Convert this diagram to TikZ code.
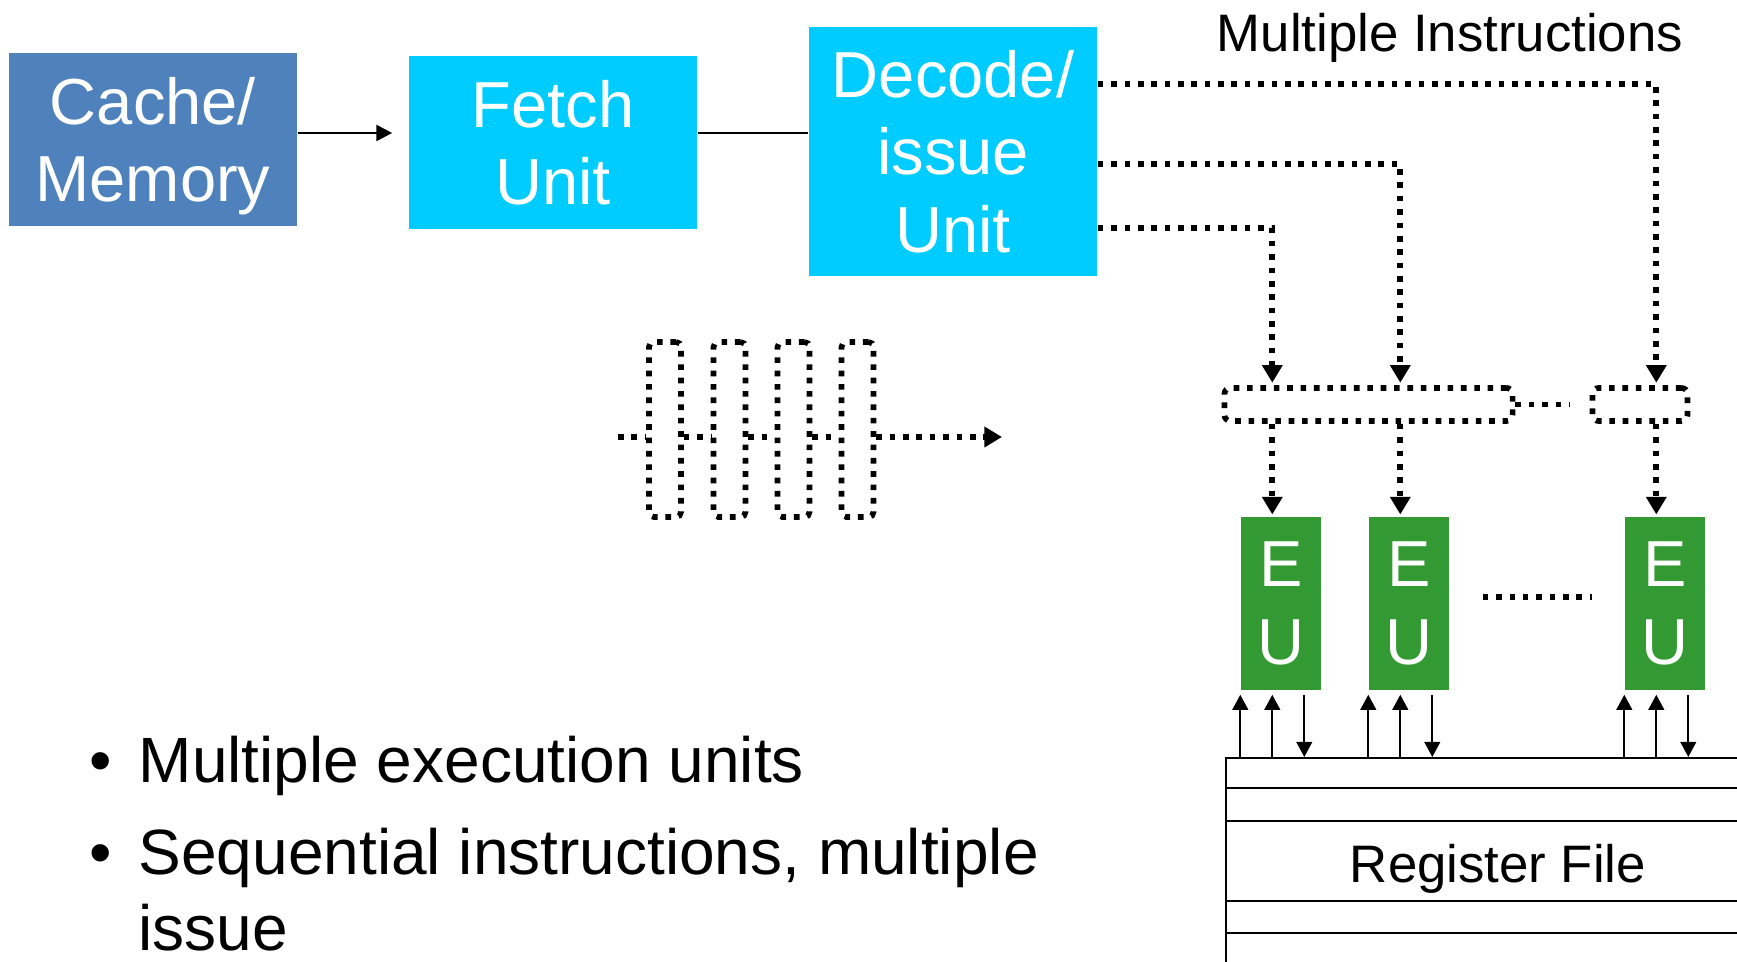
\documentclass[tikz,border=0pt]{standalone}
\usepackage{fontspec}
\setmainfont{Liberation Sans}
\usetikzlibrary{calc,arrows.meta,positioning}

\definecolor{membg}{RGB}{79,129,189}
\definecolor{unitbg}{RGB}{0,204,255}
\definecolor{eubg}{RGB}{51,153,51}

\tikzset{
	unitbox/.style={inner sep=0pt, align=center, text=white, font=\fontsize{18.5}{22}\selectfont},
	eubox/.style={unitbox, fill=eubg, minimum width=0.8cm, minimum height=1.73cm},
	smalltext/.style={inner sep=0pt, font=\fontsize{15}{18}\selectfont},
	bullettext/.style={inner sep=0pt, font=\fontsize{18.2}{22}\selectfont},
	dots/.style={line width=1.6pt, dash pattern=on 1.6pt off 2.2pt},
	dotarrow/.style={dots, -{Triangle[width=5.6pt,length=5pt]}},
	pulse/.style={draw, dots, rounded corners=0.05cm, minimum width=0.32cm, minimum height=1.75cm, inner sep=0pt},
	issuebar/.style={draw, dots, rounded corners=0.06cm, minimum height=0.33cm, inner sep=0pt},
	fetcharrow/.style={line width=0.75pt, -{Triangle[width=4.5pt,length=4.5pt]}},
	regarrow/.style={line width=0.5pt, -{Triangle[width=4.5pt,length=4.3pt]}}
}

\begin{document}
\begin{tikzpicture}[x=0.01cm, y=-0.01cm]
	%%%%% START %%%%%
	\useasboundingbox (0,0) rectangle (1737,962);
	
	\node[unitbox, fill=membg, text depth=0pt, minimum width=2.88cm, minimum height=1.73cm] (cache) at (153, 139.5) {Cache/\\Memory};
	\node[unitbox, fill=unitbg, minimum width=2.88cm, minimum height=1.73cm] (fetch) at (553, 142.5) {Fetch\\Unit};
	\node[unitbox, fill=unitbg, minimum width=2.88cm, minimum height=2.49cm] (decode) at (953, 151.5) {Decode/\\issue\\Unit};
	
	\coordinate (bus) at (0, 133);
	\draw[fetcharrow, shorten >=0.16cm] (cache.east |- bus) -- (fetch.west |- bus);
	\draw[line width=0.5pt] (fetch.east |- bus) -- (decode.west |- bus);
	
	\node[smalltext, anchor=base] (multi) at (1450, 52) {Multiple Instructions};
	
	% issue bars
	\node[issuebar, minimum width=2.88cm] (bara) at (1368.5, 404.5) {};
	\node[issuebar, minimum width=0.95cm] (barb) at (1640, 404.5) {};
	\draw[dots, shorten >=0.2cm] (bara.east) -- (barb.west);
	
	% execution units
	\foreach \n/\x in {eua/1281, eub/1409, euc/1665} {
		\node[eubox] (\n) at (\x, 603.5) {E\\U};
		\coordinate (\n-c) at ($(\n.south west)+(32,0)$);
		\coordinate (\n-r) at ($(\n.south west)+(64,0)$);
	}
	\draw[dots, shorten <=0.33cm, shorten >=0.32cm] ($(eub.east)+(0,-6.5)$) -- ($(euc.west)+(0,-6.5)$);
	
	\draw[dotarrow, shorten >=0.7pt] ($(decode.north east)+(0,58)$) -| (euc-c |- barb.north);
	\draw[dotarrow, shorten >=0.7pt] ($(decode.north east)+(0,138)$) -| (eub-c |- bara.north);
	\draw[dotarrow, shorten >=0.7pt] ($(decode.north east)+(0,202)$) -| (eua-c |- bara.north);
	\foreach \n/\b in {eua/bara, eub/bara, euc/barb}
		\draw[dotarrow, shorten >=0.5pt] (\n-c |- \b.south) -- (\n-c |- \n.north);
	
	% register file
	\node[draw, line width=0.55pt, anchor=north west, minimum width=6cm, minimum height=3cm, inner sep=0pt] (regfile) at (1225, 757) {};
	\foreach \d in {31, 64, 144, 176}
		\draw[line width=0.55pt] ($(regfile.north west)+(0,\d)$) -- ($(regfile.north east)+(0,\d)$);
	\node[smalltext, anchor=base] (regname) at (1498, 883) {Register File};
	
	\foreach \n in {eua, eub, euc} {
		\draw[regarrow, shorten >=0.04cm] (\n.south west |- regfile.north) -- (\n.south west);
		\draw[regarrow, shorten >=0.04cm] (\n-c |- regfile.north) -- (\n-c);
		\draw[regarrow, shorten <=0.04cm] (\n-r) -- (\n-r |- regfile.north);
	}
	
	% pulses
	\coordinate (wave) at (0, 437);
	\foreach \i/\x in {1/665, 2/729.5, 3/793.5, 4/857.5}
		\node[pulse] (p\i) at (\x, 429.5) {};
	\coordinate (wavein) at (618, 437);
	\coordinate (waveout) at (1002, 437);
	\draw[dots] (wavein) -- (p1.west |- wave);
	\foreach \a/\b in {1/2, 2/3, 3/4}
		\draw[dots] (p\a.east |- wave) -- (p\b.west |- wave);
	\draw[dotarrow] (p4.east |- wave) -- (waveout);
	
	% bullets
	\node[bullettext, anchor=base west] (dota) at (89, 783) {•};
	\node[bullettext, anchor=base west] (itema) at (138, 783) {Multiple execution units};
	\node[bullettext, anchor=base west] (dotb) at (89, 875) {•};
	\node[bullettext, anchor=base west] (itemb) at (138, 875) {Sequential instructions, multiple};
	\node[bullettext, anchor=base west] (itemc) at ($(itemb.base west)+(0,75)$) {issue};
	
	%%%%% END %%%%%
\end{tikzpicture}
\end{document}
